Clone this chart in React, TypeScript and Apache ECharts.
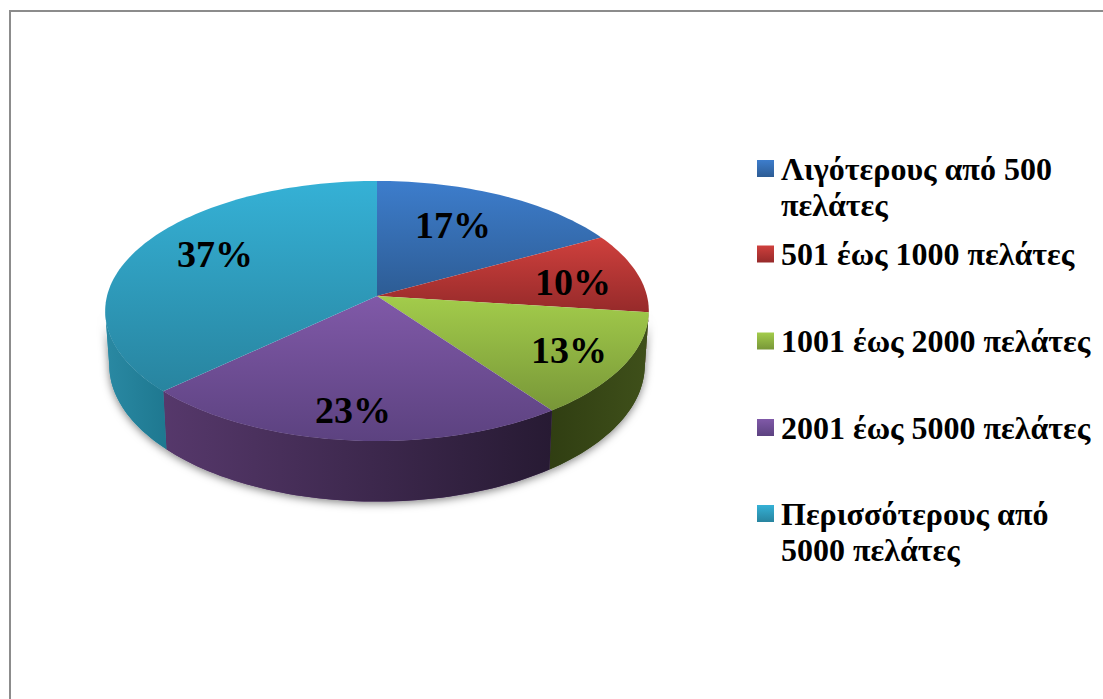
import React, { useEffect, useRef } from "react";
import * as echarts from "echarts";

const categories = [
  "Λιγότερους από 500\nπελάτες",
  "501 έως 1000 πελάτες",
  "1001 έως 2000 πελάτες",
  "2001 έως 5000 πελάτες",
  "Περισσότερους από\n5000 πελάτες",
];
const shares = [17, 10, 13, 23, 37];

const topColors = [
  ["#3d7dcc", "#2d5c94"],
  ["#cf403d", "#962a2a"],
  ["#a3cc4b", "#789738"],
  ["#8059a8", "#5c4280"],
  ["#35b1d6", "#28849f"],
];
const sideColors = [
  ["#2d5c94", "#2d5c94"],
  ["#6e1f1e", "#6e1f1e"],
  ["#303e12", "#3f501a"],
  ["#56386b", "#271a33"],
  ["#2a89a3", "#1e7890"],
];
const legendCenters = [168.5, 254, 341, 427.5, 513.5];
const labelRadius = [0.663, 0.743, 0.788, 0.81, 0.71];
const labelTurn = [-3.6, 2.3, 0, 0.3, 5.2];

// Projection of the pie disc: a perspective view of a circle
const APEX_X = 377;
const APEX_Y = 296;
const RX = 270;
const RY = 128.3;
const PERSP = -0.1154;
const BASE_RX = 266;
const BASE_RY = 135;
const BASE_Y = 349;
const SIDE_FROM = 96.6;
const SIDE_TO = 263.4;
const LINE = 36;

const total = shares.reduce((a, b) => a + b, 0);
const rad = (d: number) => (d * Math.PI) / 180;

function top(deg: number, r = 1): number[] {
  const u = r * Math.sin(rad(deg));
  const v = -r * Math.cos(rad(deg));
  const w = 1 + PERSP * v;
  return [APEX_X + (RX * u) / w, APEX_Y + (RY * v) / w];
}
function base(deg: number): number[] {
  const u = Math.sin(rad(deg));
  const v = -Math.cos(rad(deg));
  const w = 1 + PERSP * v;
  return [APEX_X + (BASE_RX * u) / w, BASE_Y + (BASE_RY * v) / w];
}
function arc(from: number, to: number, fn: (d: number) => number[]) {
  const pts: number[][] = [];
  const n = Math.max(2, Math.ceil((to - from) / 1.5));
  for (let i = 0; i <= n; i++) pts.push(fn(from + ((to - from) * i) / n));
  return pts;
}
function vGrad(c: string[]) {
  return new echarts.graphic.LinearGradient(0, 0, 0, 1, [
    { offset: 0, color: c[0] },
    { offset: 1, color: c[1] },
  ]);
}
function hGrad(c: string[]) {
  return new echarts.graphic.LinearGradient(0, 0, 1, 0, [
    { offset: 0, color: c[0] },
    { offset: 1, color: c[1] },
  ]);
}

export default function App() {
  const ref = useRef<HTMLDivElement>(null);
  useEffect(() => {
    document.body.style.margin = "0";
    const chart = echarts.init(ref.current!, null, { renderer: "svg" });
    let acc = 0;
    const series = categories.map((name, i) => {
      const start = (acc / total) * 360;
      acc += shares[i];
      const end = (acc / total) * 360;
      return {
        type: "custom",
        name,
        coordinateSystem: "none",
        silent: true,
        data: [[shares[i]]],
        renderItem: (_p: any, api: any) => {
          const value = api.value(0);
          const children: any[] = [];
          const s0 = Math.max(start, SIDE_FROM);
          const s1 = Math.min(end, SIDE_TO);
          if (s1 > s0) {
            const pts = [...arc(s0, s1, (d) => top(d)), ...arc(s0, s1, base).reverse()];
            children.push({
              type: "polygon",
              z2: 0,
              shape: { points: pts },
              style: {
                fill: sideColors[i][0],
                shadowBlur: 9,
                shadowColor: "rgba(0,0,0,0.5)",
                shadowOffsetY: 2,
              },
            });
            children.push({
              type: "polygon",
              z2: 2,
              shape: { points: pts },
              style: { fill: hGrad(sideColors[i]) },
            });
          }
          children.push({
            type: "polygon",
            z2: 10,
            shape: { points: [[APEX_X, APEX_Y], ...arc(start, end, (d) => top(d))] },
            style: { fill: vGrad(topColors[i]) },
          });
          const mid = (start + end) / 2 + labelTurn[i];
          const [lx, ly] = top(mid, labelRadius[i]);
          children.push({
            type: "text",
            z2: 20,
            x: lx,
            y: ly,
            style: {
              text: `${value}%`,
              fill: "#000",
              font: 'bold 38px "Liberation Serif"',
              align: "center",
              verticalAlign: "middle",
            },
          });
          return { type: "group", children };
        },
      };
    });
    chart.setOption({
      animation: false,
      backgroundColor: "#fff",
      legend: categories.map((name, i) => {
        const twoLines = name.includes("\n");
        return {
          left: 757,
          top: legendCenters[i] - (twoLines ? LINE * 1.5 : LINE / 2),
          padding: 0,
          orient: "vertical",
          selectedMode: false,
          itemWidth: 17,
          itemHeight: 17,
          icon: "rect",
          // a leading empty line keeps the first text line beside the swatch
          formatter: (n: string) => (twoLines ? `\n${n}` : n),
          textStyle: {
            fontFamily: "Liberation Serif",
            fontWeight: "bold",
            fontSize: 32,
            lineHeight: LINE,
            color: "#000",
            padding: [0, 0, 0, 2],
          },
          data: [{ name, itemStyle: { color: vGrad(topColors[i]) } }],
        };
      }),
      graphic: [
        { type: "line", silent: true, shape: { x1: 10, y1: 11, x2: 1103, y2: 11 }, style: { stroke: "#8c8c8c", lineWidth: 2 } },
        { type: "line", silent: true, shape: { x1: 10, y1: 10, x2: 10, y2: 699 }, style: { stroke: "#8c8c8c", lineWidth: 2 } },
      ],
      series,
    });
    return () => chart.dispose();
  }, []);
  return <div ref={ref} style={{ width: 1103, height: 699 }} />;
}
